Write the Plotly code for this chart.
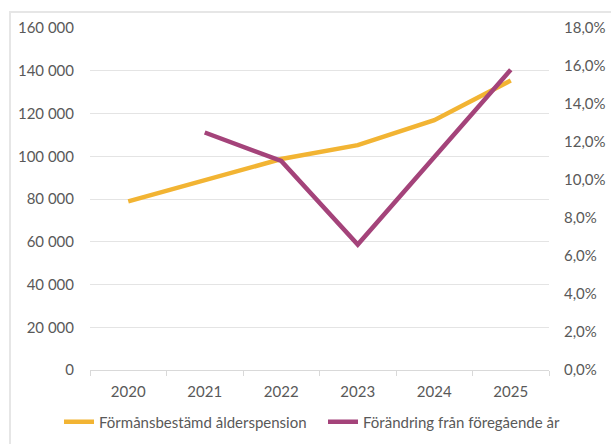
import plotly.graph_objects as go

years = ["2020", "2021", "2022", "2023", "2024", "2025"]
pension = [78900, 88800, 98700, 105200, 116900, 135400]
change = [None, 0.125, 0.110, 0.066, 0.112, 0.158]

FONT = "Lato, 'Open Sans', sans-serif"
TXT = "#595959"

fig = go.Figure()
fig.add_trace(go.Scatter(
    x=years, y=pension, name="Förmånsbestämd ålderspension",
    mode="lines", line=dict(color="#F2B433", width=4.5), yaxis="y", legend="legend"))
fig.add_trace(go.Scatter(
    x=years, y=change, name="Förändring från föregående år",
    mode="lines", line=dict(color="#A4437A", width=4.5), yaxis="y2", legend="legend2"))

leg_common = dict(orientation="h", yanchor="middle", xanchor="left", itemwidth=30,
                  xref="container", yref="container",
                  font=dict(family=FONT, size=15, color=TXT), bgcolor="rgba(0,0,0,0)")

fig.update_layout(
    width=611, height=444,
    margin=dict(l=90, r=62, t=28, b=74, autoexpand=False),
    paper_bgcolor="white", plot_bgcolor="white",
    separators=", ",
    font=dict(family=FONT, size=15, color=TXT),
    showlegend=True,
    legend=dict(x=59 / 611, y=(444 - 422) / 444, **leg_common),
    legend2=dict(x=323 / 611, y=(444 - 422) / 444, **leg_common),
    xaxis=dict(type="category", range=[-0.5, 5.5], showgrid=False, showline=True,
               linecolor="#d9d9d9", linewidth=1, ticks="outside", tickson="boundaries",
               ticklen=5, tickcolor="#d9d9d9", ticklabelstandoff=8,
               tickfont=dict(size=15, color=TXT)),
    yaxis=dict(range=[0, 160000], dtick=20000, tickformat=",d", showgrid=True,
               gridcolor="#e4e4e4", gridwidth=1, zeroline=False, showline=False,
               ticks="", ticklabelstandoff=15, tickfont=dict(size=15, color=TXT)),
    yaxis2=dict(range=[0, 0.18], dtick=0.02, tickformat=".1%", overlaying="y",
                side="right", showgrid=False, zeroline=False, showline=False,
                ticks="", ticklabelstandoff=14, tickfont=dict(size=15, color=TXT)),
    shapes=[dict(type="rect", xref="paper", yref="paper",
                 x0=-0.1743, x1=1.3, y0=-0.4, y1=1.0468,
                 line=dict(color="#e6e6e6", width=2), layer="below")],
)

fig.write_html("out.html", config={"displayModeBar": False},
               post_script="document.body.style.margin='0px';")
